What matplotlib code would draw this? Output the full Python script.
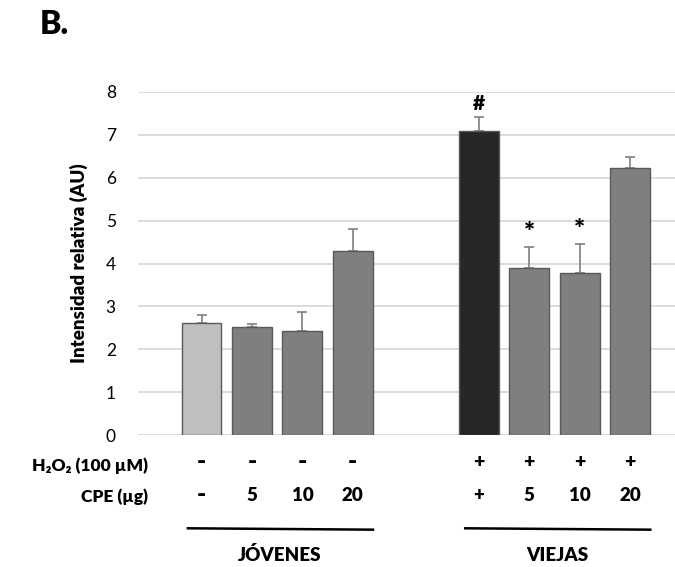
import numpy as np
import matplotlib.pyplot as plt

plt.rcParams['font.family'] = ['Lato', 'DejaVu Sans']

# data
h2o2 = ['-', '-', '-', '-', '+', '+', '+', '+']
cpe = ['-', '5', '10', '20', '+', '5', '10', '20']
intensidad = [2.61, 2.52, 2.42, 4.30, 7.09, 3.89, 3.79, 6.22]
error = [0.19, 0.08, 0.44, 0.50, 0.32, 0.50, 0.66, 0.27]
signif = ['', '', '', '', '#', '*', '*', '']
colores = ['#bfbfbf', '#7f7f7f', '#7f7f7f', '#7f7f7f',
           '#262626', '#7f7f7f', '#7f7f7f', '#7f7f7f']
grupos = ['JÓVENES', 'VIEJAS']

W = 'heavy'


def main():
    # two groups of four bars with a gap in between
    x = np.r_[np.arange(4), np.arange(4) + 5.5]

    fig = plt.figure(figsize=(6.75, 5.67), dpi=100)
    ax = fig.add_axes([138 / 675, 132 / 567, 537 / 675, 343 / 567])

    ax.bar(x, intensidad, width=0.79, color=colores, edgecolor='#595959',
           linewidth=1.0, zorder=3)
    ax.errorbar(x, intensidad, yerr=[np.zeros(len(error)), error], fmt='none',
                ecolor='#7f7f7f', elinewidth=1.2, capsize=3.5, capthick=1.2,
                zorder=2)

    for xi, v, e, s in zip(x, intensidad, error, signif):
        if s:
            ax.text(xi, v + e + 0.32, s, ha='center', va='center',
                    fontsize=15 if s == '#' else 19, fontweight=W)

    ax.set_ylim(0, 8)
    ax.set_xlim(-1.26, 9.39)
    ax.set_yticks(range(9))
    ax.set_xticks([])
    ax.yaxis.grid(True, color='#d9d9d9', linewidth=1.3, zorder=0)
    ax.set_axisbelow(True)
    for sp in ax.spines.values():
        sp.set_visible(False)
    ax.tick_params(axis='y', length=0, pad=16, labelsize=12.5)
    ax.set_ylabel('Intensidad relativa (AU)', fontsize=13.5, fontweight=W,
                  labelpad=13)

    # treatment rows under the bars
    tr = ax.get_xaxis_transform()
    for xi, a, b in zip(x, h2o2, cpe):
        ax.text(xi, -0.079, a, transform=tr, ha='center', va='center',
                fontsize=18 if a == '-' else 14, fontweight=W)
        ax.text(xi, -0.175, b, transform=tr, ha='center', va='center',
                fontsize=18 if b == '-' else 13.5, fontweight=W)
    fig.text(148 / 675, 1 - 466 / 567, 'H₂O₂ (100 µM)', ha='right',
             va='center', fontsize=12.5, fontweight=W)
    fig.text(148 / 675, 1 - 497 / 567, 'CPE (µg)', ha='right',
             va='center', fontsize=12.5, fontweight=W)

    # group brackets
    for i, g in enumerate(grupos):
        xs = x[4 * i:4 * i + 4]
        ax.plot([xs[0] - 0.27, xs[-1] + 0.4], [-0.272, -0.276], transform=tr,
                color='black', linewidth=1.8, clip_on=False)
        ax.text((xs[0] + xs[-1]) / 2 + 0.05, -0.35, g, transform=tr,
                ha='center', va='center', fontsize=13.5, fontweight=W)

    fig.text(40 / 675, 1 - 25 / 567, 'B.', ha='left', va='center',
             fontsize=23, fontweight=W)

    plt.savefig('out.png', dpi=100)


if __name__ == '__main__':
    main()
